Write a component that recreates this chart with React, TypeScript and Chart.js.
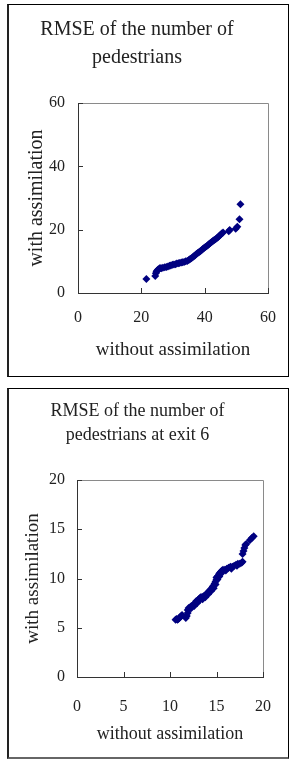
import React, { useEffect, useRef } from 'react';
import { Chart, registerables } from 'chart.js';

Chart.register(...registerables);

const FONT = '"Liberation Serif", "Times New Roman", serif';

const title1 = ['RMSE of the number of', 'pedestrians'];
const title2 = ['RMSE of the number of', 'pedestrians at exit 6'];
const xAxisTitle = 'without assimilation';
const yAxisTitle = 'with assimilation';
const ticks1 = [0, 20, 40, 60];
const ticks2 = [0, 5, 10, 15, 20];

const c1x = [21.6, 24.4, 24.6, 24.8, 25.0, 25.3, 25.6, 25.9, 26.3, 26.8, 27.4, 27.9, 28.4, 28.9, 29.3, 29.8, 30.3, 30.8, 31.2, 31.7, 32.1, 32.6, 33.0, 33.5, 34.0, 34.5, 35.0, 35.4, 35.8, 36.2, 36.6, 37.0, 37.4, 37.8, 38.2, 38.6, 39.0, 39.4, 39.8, 40.2, 40.6, 41.0, 41.4, 41.8, 42.2, 42.6, 43.0, 43.4, 43.8, 44.2, 44.6, 45.0, 45.4, 45.8, 47.6, 47.9, 49.8, 50.3, 51.0, 51.3];
const c1y = [4.4, 5.4, 6.2, 6.8, 7.1, 7.4, 7.6, 7.9, 7.8, 8.0, 8.1, 8.2, 8.4, 8.6, 8.7, 8.9, 9.0, 9.1, 9.3, 9.4, 9.5, 9.6, 9.7, 9.8, 10.0, 10.1, 10.4, 10.7, 11.0, 11.3, 11.6, 11.9, 12.3, 12.6, 12.9, 13.2, 13.5, 13.9, 14.2, 14.5, 14.8, 15.1, 15.5, 15.8, 16.1, 16.4, 16.7, 17.0, 17.3, 17.6, 18.0, 18.4, 18.8, 19.1, 19.5, 19.9, 20.3, 20.9, 23.3, 28.0];

const c2x = [10.6, 10.7, 10.8, 10.9, 11.0, 11.1, 11.2, 11.3, 11.7, 11.8, 11.9, 11.9, 12.0, 12.1, 12.2, 12.3, 12.4, 12.5, 12.6, 12.7, 12.8, 12.8, 12.9, 13.0, 13.1, 13.2, 13.3, 13.4, 13.5, 13.6, 13.7, 13.8, 13.9, 14.0, 14.1, 14.2, 14.3, 14.4, 14.5, 14.6, 14.7, 14.8, 14.9, 15.0, 15.0, 15.1, 15.2, 15.3, 15.4, 15.5, 15.6, 15.7, 15.9, 16.1, 16.3, 16.5, 16.7, 16.9, 17.1, 17.3, 17.5, 17.7, 17.8, 17.8, 17.9, 18.0, 18.1, 18.2, 18.6, 18.8, 19.0, 12.3, 12.6, 12.9, 13.2, 13.5, 13.8, 14.1, 14.4, 14.7, 14.9, 15.1, 15.3, 15.5, 16.0, 16.6, 17.2];
const c2y = [5.8, 5.9, 5.8, 5.9, 6.0, 6.1, 6.2, 6.3, 6.0, 6.2, 6.5, 6.8, 7.0, 6.9, 7.1, 7.2, 7.2, 7.3, 7.4, 7.5, 7.5, 7.7, 7.7, 7.8, 7.9, 8.0, 8.1, 8.1, 8.1, 8.2, 8.2, 8.3, 8.4, 8.5, 8.6, 8.7, 8.8, 8.9, 9.0, 9.2, 9.3, 9.5, 9.7, 9.9, 10.1, 10.2, 10.3, 10.5, 10.6, 10.7, 10.8, 10.9, 10.9, 11.0, 11.1, 11.2, 11.2, 11.3, 11.4, 11.5, 11.5, 11.6, 11.7, 12.5, 12.8, 13.1, 13.4, 13.5, 13.9, 14.1, 14.3, 7.0, 7.2, 7.5, 7.8, 7.9, 8.1, 8.4, 8.7, 9.0, 9.4, 9.9, 10.2, 10.5, 10.8, 11.0, 11.3];

const framePlugin = {
  id: 'frame',
  beforeDatasetsDraw(chart: any) {
    const { ctx, chartArea } = chart;
    const { left, right, top, bottom } = chartArea;
    const xs = chart.scales.x;
    const ys = chart.scales.y;
    ctx.save();
    ctx.lineWidth = 1;
    ctx.strokeStyle = '#8a8a8a';
    ctx.beginPath();
    ctx.moveTo(Math.round(left), Math.round(top) + 0.5);
    ctx.lineTo(Math.round(right) + 0.5, Math.round(top) + 0.5);
    ctx.lineTo(Math.round(right) + 0.5, Math.round(bottom));
    ctx.stroke();
    ctx.strokeStyle = '#333';
    ctx.beginPath();
    ctx.moveTo(Math.round(left) + 0.5, Math.round(top));
    ctx.lineTo(Math.round(left) + 0.5, Math.round(bottom) + 0.5);
    ctx.lineTo(Math.round(right) + 1, Math.round(bottom) + 0.5);
    ctx.stroke();
    ctx.beginPath();
    xs.ticks.forEach((t: any) => {
      const px = Math.round(xs.getPixelForValue(t.value)) + 0.5;
      ctx.moveTo(px, Math.round(bottom));
      ctx.lineTo(px, Math.round(bottom) - 5);
    });
    ys.ticks.forEach((t: any) => {
      const py = Math.round(ys.getPixelForValue(t.value)) + 0.5;
      ctx.moveTo(Math.round(left), py);
      ctx.lineTo(Math.round(left) + 5, py);
    });
    ctx.stroke();
    ctx.restore();
  },
};

type Spec = {
  titleLines: string[];
  titleSize: number;
  titleLH: number;
  titlePadTop: number;
  titlePadBottom: number;
  yTitleSize: number;
  yTitlePad: number;
  xTitleSize: number;
  xTitlePad: number;
  yWidth: number;
  xHeight: number;
  rightPad: number;
  xTickPad: number;
  yTickPad: number;
  ticks: number[];
  xs: number[];
  ys: number[];
  radius: number;
};

const TEXT = '#222';

function makeConfig(s: Spec): any {
  const min = s.ticks[0];
  const max = s.ticks[s.ticks.length - 1];
  const setTicks = (scale: any) => {
    scale.ticks = s.ticks.map((v) => ({ value: v }));
  };
  return {
    type: 'scatter',
    data: {
      datasets: [
        {
          data: s.xs.map((x, i) => ({ x, y: s.ys[i] })),
          pointStyle: 'rectRot',
          pointRadius: s.radius,
          borderWidth: 0,
          backgroundColor: '#000080',
          borderColor: '#000080',
        },
      ],
    },
    options: {
      responsive: false,
      animation: false,
      layout: { padding: { left: 0, right: s.rightPad, top: 0, bottom: 0 } },
      plugins: {
        legend: { display: false },
        tooltip: { enabled: false },
        title: {
          display: true,
          text: s.titleLines,
          color: TEXT,
          font: { family: FONT, size: s.titleSize, weight: 'normal', lineHeight: s.titleLH + 'px' },
          padding: { top: s.titlePadTop, bottom: s.titlePadBottom },
        },
      },
      scales: {
        x: {
          type: 'linear',
          min,
          max,
          grid: { display: false, drawTicks: false },
          border: { display: false },
          afterBuildTicks: setTicks,
          afterFit: (scale: any) => {
            scale.height = s.xHeight;
          },
          ticks: {
            color: TEXT,
            padding: s.xTickPad,
            font: { family: FONT, size: 16 },
            maxRotation: 0,
          },
          title: {
            display: true,
            text: xAxisTitle,
            color: TEXT,
            font: { family: FONT, size: s.xTitleSize },
            padding: { top: 0, bottom: s.xTitlePad },
          },
        },
        y: {
          type: 'linear',
          min,
          max,
          grid: { display: false, drawTicks: false },
          border: { display: false },
          afterBuildTicks: setTicks,
          afterFit: (scale: any) => {
            scale.width = s.yWidth;
          },
          ticks: {
            color: TEXT,
            padding: s.yTickPad,
            font: { family: FONT, size: 16 },
          },
          title: {
            display: true,
            text: yAxisTitle,
            color: TEXT,
            font: { family: FONT, size: s.yTitleSize },
            padding: { top: s.yTitlePad, bottom: 0 },
          },
        },
      },
    },
    plugins: [framePlugin],
  };
}

const spec1: Spec = {
  titleLines: title1,
  titleSize: 20,
  titleLH: 28,
  titlePadTop: 16,
  titlePadBottom: 31,
  yTitleSize: 20,
  yTitlePad: 25,
  xTitleSize: 19,
  xTitlePad: 18.6,
  yWidth: 78,
  xHeight: 87,
  rightPad: 17,
  xTickPad: 15,
  yTickPad: 13,
  ticks: ticks1,
  xs: c1x,
  ys: c1y,
  radius: 4,
};

const spec2: Spec = {
  titleLines: title2,
  titleSize: 18,
  titleLH: 24,
  titlePadTop: 19,
  titlePadBottom: 33,
  yTitleSize: 19,
  yTitlePad: 21.6,
  xTitleSize: 18,
  xTitlePad: 15.2,
  yWidth: 77,
  xHeight: 83,
  rightPad: 16,
  xTickPad: 20,
  yTickPad: 12,
  ticks: ticks2,
  xs: c2x,
  ys: c2y,
  radius: 4,
};

function ChartPanel({ spec, top }: { spec: Spec; top: number }) {
  const ref = useRef<HTMLCanvasElement | null>(null);
  useEffect(() => {
    if (!ref.current) return;
    const chart = new Chart(ref.current, makeConfig(spec));
    return () => chart.destroy();
  }, [spec]);
  return (
    <canvas
      ref={ref}
      width={291}
      height={380}
      style={{ position: 'absolute', left: 0, top, width: 291, height: 380 }}
    />
  );
}

export default function App() {
  return (
    <div style={{ position: 'absolute', left: 0, top: 0, width: 291, height: 760, background: '#fff' }}>
      <div
        style={{
          position: 'absolute',
          left: 7,
          top: 4,
          width: 282,
          height: 373,
          boxSizing: 'border-box',
          border: '1px solid #000',
          borderLeft: '2px solid #222',
        }}
      />
      <div
        style={{
          position: 'absolute',
          left: 7,
          top: 388,
          width: 282,
          height: 371,
          boxSizing: 'border-box',
          border: '1px solid #000',
          borderLeft: '2px solid #222',
          borderBottom: '2px solid #666',
        }}
      />
      <ChartPanel spec={spec1} top={0} />
      <ChartPanel spec={spec2} top={380} />
    </div>
  );
}
